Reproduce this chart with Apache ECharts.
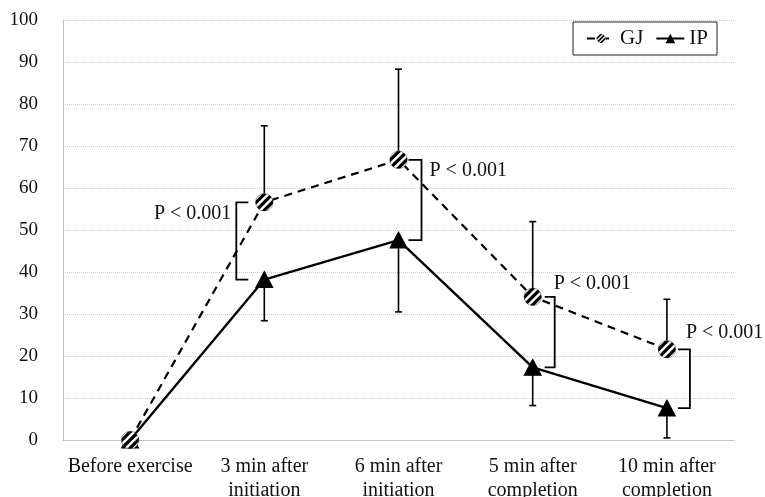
<!DOCTYPE html>
<html>
<head>
<meta charset="utf-8">
<script src="https://cdn.jsdelivr.net/npm/echarts@6/dist/echarts.min.js"></script>
<style>
  html, body { margin: 0; padding: 0; background: #fff; }
  #chart { width: 765px; height: 497px; }
</style>
</head>
<body>
<div id="chart"></div>
<script>
// Time points along the exercise session
var categories = ['Before exercise', '3 min after\ninitiation', '6 min after\ninitiation', '5 min after\ncompletion', '10 min after\ncompletion'];

// Mean values per group
var gjValues = [0, 56.6, 66.7, 34.1, 21.6];
var ipValues = [0, 38.2, 47.6, 17.3, 7.6];

// Error bar ends (GJ drawn upward, IP drawn downward)
var gjUpper = [0, 74.8, 88.3, 52, 33.5];
var ipLower = [0, 28.4, 30.5, 8.2, 0.5];

// Y axis ticks
var yTicks = [0, 10, 20, 30, 40, 50, 60, 70, 80, 90, 100];

// Significance annotations: category index and text
var sigCategories = [1, 2, 3, 4];
var sigLabels = ['P < 0.001', 'P < 0.001', 'P < 0.001', 'P < 0.001'];

// Bracket drawing layout (pixel offsets relative to the category centre)
var bracketLayout = [
  { bar: -28, tick: -16, textX: -33, textDy: 11, align: 'right' },
  { bar: 23, tick: 10, textX: 31, textDy: 11, align: 'left' },
  { bar: 22, tick: 12, textX: 21, textDy: -13, align: 'left' },
  { bar: 23, tick: 11, textX: 19, textDy: -17, align: 'left' }
];

var FONT = '"Liberation Serif", "Times New Roman", serif';

// Hatched circle marker for GJ
var hatchSvg = "<svg xmlns='http://www.w3.org/2000/svg' width='40' height='40' viewBox='0 0 20 20'>" +
  "<defs><clipPath id='c'><circle cx='10' cy='10' r='9.2'/></clipPath></defs>" +
  "<circle cx='10' cy='10' r='9.2' fill='#fff' stroke='#888' stroke-width='0.9'/>" +
  "<g clip-path='url(#c)' stroke='#000' stroke-width='3.4'>" +
  "<line x1='-2' y1='13.5' x2='13.5' y2='-2'/>" +
  "<line x1='-2' y1='22' x2='22' y2='-2'/>" +
  "<line x1='6.5' y1='22' x2='22' y2='6.5'/>" +
  "</g></svg>";
var hatchSymbol = 'image://data:image/svg+xml;utf8,' + encodeURIComponent(hatchSvg);

var chart = echarts.init(document.getElementById('chart'), null, { renderer: 'canvas' });

function errorBarRenderer(values, ends) {
  return function (params, api) {
    var i = api.value(0);
    var p0 = api.coord([i, values[i]]);
    var p1 = api.coord([i, ends[i]]);
    var half = 3.5;
    return {
      type: 'group',
      children: [
        { type: 'line', shape: { x1: p0[0], y1: p0[1], x2: p1[0], y2: p1[1] }, style: { stroke: '#000', lineWidth: 1.6 } },
        { type: 'line', shape: { x1: p1[0] - half, y1: p1[1], x2: p1[0] + half, y2: p1[1] }, style: { stroke: '#000', lineWidth: 1.6 } }
      ]
    };
  };
}

var option = {
  animation: false,
  backgroundColor: '#fff',
  textStyle: { fontFamily: FONT, color: '#111' },
  grid: { left: 63, right: 31, top: 20, bottom: 57, containLabel: false, outerBoundsMode: 'none' },
  legend: {
    left: 573,
    top: 22,
    padding: [6, 9, 6, 13],
    itemGap: 12,
    itemWidth: 28,
    itemHeight: 12,
    borderColor: '#222',
    borderWidth: 1,
    textStyle: { fontFamily: FONT, fontSize: 21, color: '#111', padding: [0, 0, 0, 0] },
    data: ['GJ', 'IP']
  },
  xAxis: {
    type: 'category',
    data: categories,
    boundaryGap: true,
    axisLine: { show: true, lineStyle: { color: '#bbb', type: 'dotted', width: 1 } },
    axisTick: { show: false },
    axisLabel: { fontFamily: FONT, fontSize: 20, color: '#111', margin: 15, lineHeight: 24, interval: 0 }
  },
  yAxis: {
    type: 'value',
    min: yTicks[0],
    max: yTicks[yTicks.length - 1],
    interval: yTicks[1] - yTicks[0],
    axisLine: { show: true, lineStyle: { color: '#c4c4c4', width: 1 } },
    axisTick: { show: false },
    axisLabel: { fontFamily: FONT, fontSize: 19, color: '#111', margin: 25 },
    splitLine: { show: true, lineStyle: { color: '#cacaca', type: 'dotted', width: 1 } }
  },
  series: [
    {
      type: 'custom',
      name: 'gjErr',
      z: 1,
      silent: true,
      renderItem: errorBarRenderer(gjValues, gjUpper),
      data: categories.map(function (c, i) { return [i]; }).slice(1)
    },
    {
      type: 'custom',
      name: 'ipErr',
      z: 1,
      silent: true,
      renderItem: errorBarRenderer(ipValues, ipLower),
      data: categories.map(function (c, i) { return [i]; }).slice(1)
    },
    {
      type: 'line',
      name: 'IP',
      z: 3,
      data: ipValues,
      symbol: 'triangle',
      symbolSize: [17, 16],
      showAllSymbol: true,
      itemStyle: { color: '#000', borderColor: '#000' },
      lineStyle: { color: '#000', width: 2.4, type: 'solid' }
    },
    {
      type: 'line',
      name: 'GJ',
      z: 4,
      data: gjValues,
      symbol: hatchSymbol,
      symbolSize: 19,
      showAllSymbol: true,
      itemStyle: { color: '#000' },
      lineStyle: { color: '#000', width: 2.2, type: [8, 6] }
    },
    {
      type: 'custom',
      name: 'brackets',
      z: 5,
      silent: true,
      data: sigCategories.map(function (c, k) { return [c, gjValues[c], ipValues[c], k]; }),
      renderItem: function (params, api) {
        var c = api.value(0);
        var k = api.value(3);
        var lay = bracketLayout[k];
        var top = api.coord([c, api.value(1)]);
        var bot = api.coord([c, api.value(2)]);
        var xb = top[0] + lay.bar;
        var xt = top[0] + lay.tick;
        return {
          type: 'group',
          children: [
            {
              type: 'polyline',
              shape: { points: [[xt, top[1]], [xb, top[1]], [xb, bot[1]], [xt, bot[1]]] },
              style: { stroke: '#000', lineWidth: 1.8, fill: null }
            },
            {
              type: 'text',
              style: {
                x: top[0] + lay.textX,
                y: top[1] + lay.textDy,
                text: sigLabels[k],
                fontFamily: FONT,
                fontSize: 20,
                fill: '#111',
                align: lay.align,
                verticalAlign: 'middle'
              }
            }
          ]
        };
      }
    }
  ]
};

chart.setOption(option);
</script>
</body>
</html>
